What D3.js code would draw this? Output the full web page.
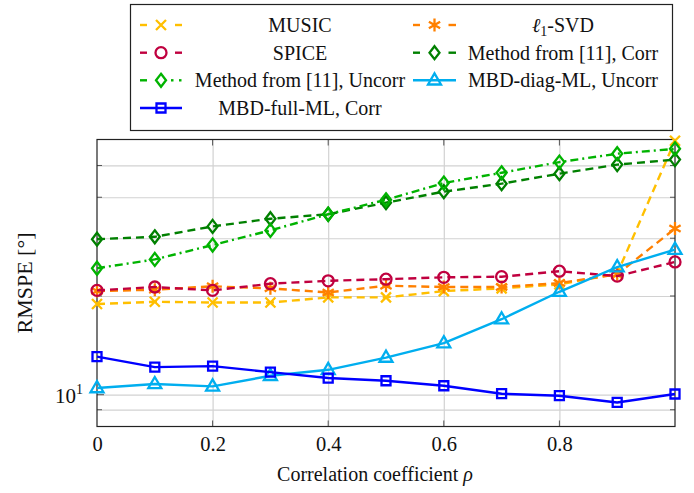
<!DOCTYPE html>
<html>
<head>
<meta charset="utf-8">
<script src="https://cdn.jsdelivr.net/npm/d3@7"></script>
<style>
html,body{margin:0;padding:0;background:#fff;}
svg{display:block;}
svg text{font-family:"Liberation Serif","Times New Roman",serif;}
</style>
</head>
<body>
<svg id="chart" width="694" height="493"></svg>
<script>
// ---- data ----
const rho = [0, 0.1, 0.2, 0.3, 0.4, 0.5, 0.6, 0.7, 0.8, 0.9, 1.0];
const music   = [18.9, 19.2, 19.1, 19.1, 19.8, 19.8, 20.7, 21.1, 21.7, 23.4, 59.5];
const l1svd   = [20.7, 20.9, 21.4, 21.1, 20.5, 21.5, 21.3, 21.3, 21.9, 23.3, 32.1];
const spice   = [20.8, 21.3, 20.8, 21.8, 22.25, 22.5, 22.8, 22.9, 23.8, 23.0, 25.4];
const m11Corr = [29.8, 30.3, 32.6, 34.4, 35.5, 38.5, 41.6, 44.0, 47.2, 50.3, 52.1];
const m11Unc  = [24.3, 25.85, 28.6, 31.7, 35.5, 39.3, 44.2, 47.5, 51.2, 54.3, 56.2];
const mbdDiag = [10.48, 10.78, 10.6, 11.42, 11.91, 12.98, 14.36, 16.99, 20.6, 24.5, 27.7];
const mbdFull = [13.07, 12.14, 12.22, 11.72, 11.24, 11.03, 10.65, 10.07, 9.93, 9.47, 10.05];
const xTicks = [0, 0.2, 0.4, 0.6, 0.8];
const yGrid = [9, 10, 20, 30, 40, 50];
const yLabelTicks = [10];

const series = [
  {name: "MUSIC", values: music, color: "#FFBF00", dash: "8,5", mark: "x", leg: "dash"},
  {name: "l1", values: l1svd, color: "#FF8000", dash: "8,5", mark: "asterisk", leg: "dash"},
  {name: "SPICE", values: spice, color: "#C0003F", dash: "8,5", mark: "circle", leg: "dash"},
  {name: "Method from [11], Corr", values: m11Corr, color: "#008000", dash: "8,5", mark: "diamond", leg: "dash"},
  {name: "Method from [11], Uncorr", values: m11Unc, color: "#00B300", dash: "8,4,2,4", mark: "diamond", leg: "dashdot"},
  {name: "MBD-diag-ML, Uncorr", values: mbdDiag, color: "#00AEEF", dash: null, mark: "triangle", leg: "solid"},
  {name: "MBD-full-ML, Corr", values: mbdFull, color: "#0000FF", dash: null, mark: "square", leg: "solid"}
];

// ---- layout ----
const FONT = "Liberation Serif";
const L = 97, R = 675, T = 139.5, B = 426.5;
const svg = d3.select("#chart");
const x = d3.scaleLinear().domain([0, 1]).range([L, R]);
const y = d3.scaleLog().domain([8, 60]).range([B, T]);

// grid
svg.append("g").attr("transform", `translate(0,${B})`)
  .call(d3.axisBottom(x).tickValues(xTicks.filter(d => d > 0)).tickSize(-(B - T)).tickFormat(""))
  .call(g => g.select(".domain").remove())
  .call(g => g.selectAll("line").attr("stroke", "#d2d2d2").attr("stroke-width", 1.2));
svg.append("g").attr("transform", `translate(${L},0)`)
  .call(d3.axisLeft(y).tickValues(yGrid).tickSize(-(R - L)).tickFormat(""))
  .call(g => g.select(".domain").remove())
  .call(g => g.selectAll("line").attr("stroke", "#d2d2d2").attr("stroke-width", 1.2));

// inner tick marks
const tk = svg.append("g").attr("stroke", "#555").attr("stroke-width", 1);
xTicks.filter(d => d > 0).forEach(v => {
  tk.append("line").attr("x1", x(v)).attr("x2", x(v)).attr("y1", B).attr("y2", B - 6);
  tk.append("line").attr("x1", x(v)).attr("x2", x(v)).attr("y1", T).attr("y2", T + 6);
});
yGrid.forEach(v => {
  const len = v === 10 ? 7 : 5;
  tk.append("line").attr("x1", L).attr("x2", L + len).attr("y1", y(v)).attr("y2", y(v));
  tk.append("line").attr("x1", R).attr("x2", R - len).attr("y1", y(v)).attr("y2", y(v));
});

// frame
svg.append("rect").attr("x", L).attr("y", T).attr("width", R - L).attr("height", B - T)
  .attr("fill", "none").attr("stroke", "#222").attr("stroke-width", 1.2);

// x tick labels
svg.append("g").attr("transform", `translate(0,${B})`)
  .call(d3.axisBottom(x).tickValues(xTicks).tickSize(0).tickPadding(10).tickFormat(d => d === 0 ? "0" : d3.format(".1f")(d)))
  .attr("font-family", FONT)
  .call(g => g.select(".domain").remove())
  .call(g => g.selectAll("text").attr("font-size", 20.5).attr("font-family", FONT).attr("fill", "#111"));

// y tick label 10^1
yLabelTicks.forEach(v => {
  svg.append("text").attr("x", 76).attr("y", y(v) + 8).attr("text-anchor", "end")
    .attr("font-family", FONT).attr("font-size", 21).attr("fill", "#111").text("10");
  svg.append("text").attr("x", 76).attr("y", y(v) - 1).attr("font-family", FONT)
    .attr("font-size", 14).attr("fill", "#111").text("1");
});

// axis labels
svg.append("text").attr("x", 375).attr("y", 481).attr("text-anchor", "middle")
  .attr("font-family", FONT).attr("font-size", 20).attr("fill", "#111")
  .call(t => { t.append("tspan").text("Correlation coefficient "); t.append("tspan").attr("font-style", "italic").text("ρ"); });
svg.append("text").attr("transform", `translate(32,${(T + B) / 2}) rotate(-90)`).attr("text-anchor", "middle")
  .attr("font-family", FONT).attr("font-size", 22).attr("fill", "#111").text("RMSPE [°]");

// marker path
function markPath(type) {
  switch (type) {
    case "x": return "M-5,-5L5,5M-5,5L5,-5";
    case "asterisk": {
      const r = 6.5; let p = "";
      [90, 30, 150].forEach(a => { const c = Math.cos(a * Math.PI / 180) * r, s = Math.sin(a * Math.PI / 180) * r; p += `M${-c},${-s}L${c},${s}`; });
      return p;
    }
    case "circle": return "M5.5,0A5.5,5.5 0 1,1 -5.5,0A5.5,5.5 0 1,1 5.5,0Z";
    case "diamond": return "M0,-6.5L5,0L0,6.5L-5,0Z";
    case "triangle": return "M0,-7L6.5,4.2L-6.5,4.2Z";
    case "square": return "M-4.5,-4.5H4.5V4.5H-4.5Z";
  }
}

const line = d3.line().x((d, i) => x(rho[i])).y(d => y(d));
const plot = svg.append("g");
series.forEach(s => {
  const g = plot.append("g");
  g.append("path").datum(s.values).attr("d", line).attr("fill", "none")
    .attr("stroke", s.color).attr("stroke-width", 2.4)
    .attr("stroke-dasharray", s.dash).attr("stroke-linejoin", "round");
  g.selectAll("path.m").data(s.values).join("path").attr("class", "m")
    .attr("transform", (d, i) => `translate(${x(rho[i])},${y(d)})`)
    .attr("d", markPath(s.mark)).attr("fill", "none").attr("stroke", s.color).attr("stroke-width", 2.3);
});

// legend
const lg = svg.append("g");
lg.append("rect").attr("x", 130.5).attr("y", 4.5).attr("width", 542).attr("height", 126)
  .attr("fill", "#fff").attr("stroke", "#222").attr("stroke-width", 1.2);
const rowsY = [25, 52.7, 80.3, 108];
const cols = [{x1: 140, x2: 182, tx: 300}, {x1: 413, x2: 456, tx: 563}];
series.forEach((s, i) => {
  const c = cols[i % 2], ry = rowsY[Math.floor(i / 2)];
  const mx = (c.x1 + c.x2) / 2;
  const seg = (a, b) => lg.append("line").attr("x1", a).attr("x2", b).attr("y1", ry).attr("y2", ry)
    .attr("stroke", s.color).attr("stroke-width", 2.4);
  if (s.leg === "solid") {
    seg(c.x1, c.x2);
  } else if (s.leg === "dash") {
    seg(c.x1, c.x1 + 7); seg(mx + 14, c.x2);
  } else {
    seg(c.x1, c.x1 + 7);
    seg(mx + 10, mx + 12.5); seg(mx + 18, mx + 20.5);
  }
  lg.append("path").attr("transform", `translate(${mx},${ry})`).attr("d", markPath(s.mark))
    .attr("fill", "none").attr("stroke", s.color).attr("stroke-width", 2.3);
  const t = lg.append("text").attr("x", c.tx).attr("y", ry + 7).attr("text-anchor", "middle")
    .attr("font-family", FONT).attr("font-size", 20).attr("fill", "#111");
  if (s.name === "l1") {
    t.append("tspan").attr("font-style", "italic").text("ℓ");
    t.append("tspan").attr("font-size", 14).attr("dy", 4).text("1");
    t.append("tspan").attr("dy", -4).text("-SVD");
  } else {
    t.text(s.name);
  }
});
</script>
</body>
</html>
